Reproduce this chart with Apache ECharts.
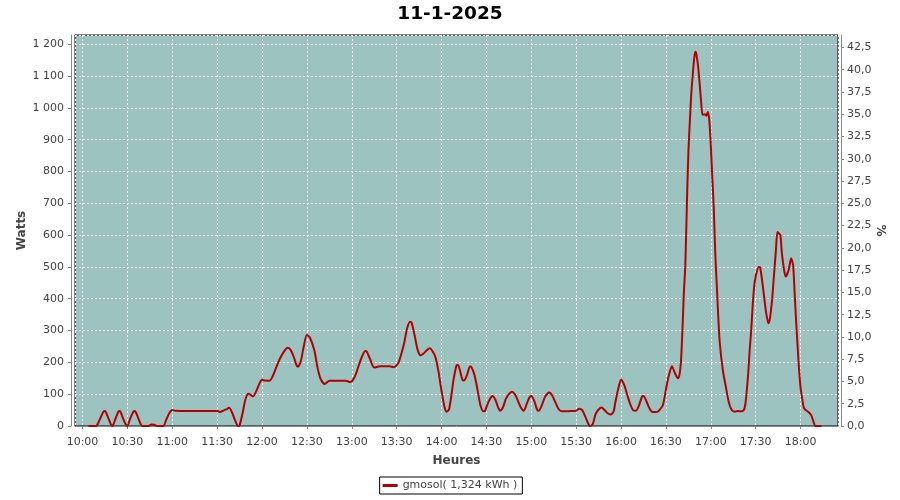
<!DOCTYPE html>
<html>
<head>
<meta charset="utf-8">
<script src="https://cdn.jsdelivr.net/npm/echarts@6/dist/echarts.min.js"></script>
<style>
html,body{margin:0;padding:0;background:#fff;}
#chart{width:900px;height:500px;}
</style>
</head>
<body>
<div id="chart"></div>
<script>
// Chart texts
var chartTitle = '11-1-2025';
var seriesName = 'gmosol( 1,324 kWh )';
var xAxisName = 'Heures';
var yLeftName = 'Watts';
var yRightName = '%';

// Minutes after 10:00 and power in watts
var minutesAfter10 = [
  4, 9, 10, 12, 14, 15, 17, 19, 20, 22, 24, 25, 27, 29, 30, 32, 34, 35, 37, 39, 40,
  44, 46, 48, 50, 54, 56, 58, 60, 62, 70, 80, 90, 92, 94, 96, 98, 100, 102, 104,
  105, 107, 109, 111, 114, 116, 118, 120, 122, 125, 127, 129, 132, 135, 137, 139,
  141, 143, 144, 146, 148, 150, 152, 155, 157, 159, 162, 165, 170, 176, 179, 182,
  185, 187, 189, 190, 192, 195, 199, 205, 208, 211, 213, 215, 217, 219, 220, 222,
  224, 226, 228, 230, 232, 234, 236, 238, 240, 242, 243.5, 245, 247, 248, 250, 251,
  252, 254, 255, 257, 259, 260, 262, 264, 266, 268, 269, 271, 273, 274, 276, 278,
  279, 281, 283, 285, 287, 289, 291, 293, 295, 297, 299, 300, 302, 304, 305, 307,
  309, 311, 312, 314, 316, 318, 320, 322, 326, 330, 332, 334, 336, 338, 339, 341,
  343, 345, 347, 349, 351, 353, 355, 356, 358, 360, 362, 364, 366, 368, 370, 372,
  374, 375, 377, 379, 381, 384, 386, 388, 390, 392, 394, 396, 398, 399, 400, 401,
  402, 403, 404, 405, 406, 407, 408, 409, 409.8, 410.5, 411.5, 412.5, 413.5, 414.5,
  416, 417, 418, 419, 420, 421, 422, 423, 424, 425, 426, 428, 430, 432, 434, 436,
  438, 440, 442, 443, 444, 445, 446, 447, 448, 449, 450, 452, 453, 455, 457, 458.5,
  459.5, 461, 462, 463.5, 464.5, 465.5, 466.5, 467.5, 469, 470, 472, 473.7, 475,
  476, 477, 478, 479, 480, 481, 482, 483, 485, 487, 488.5, 490, 494
];
var watts = [
  0, 0, 5, 25, 45, 47, 28, 5, 0, 22, 45, 47, 25, 4, 0, 25, 45, 47, 28, 5, 0,
  0, 5, 4, 0, 0, 20, 40, 50, 48, 47, 47, 47, 44, 48, 52, 57, 42, 18, 0,
  2, 40, 85, 101, 93, 108, 130, 145, 143, 142, 155, 178, 212, 236, 246, 240,
  220, 192, 186, 205, 252, 286, 278, 237, 186, 150, 132, 142, 142, 142, 138, 155,
  195, 220, 236, 234, 213, 184, 188, 188, 185, 197, 225, 260, 307, 328, 325, 285,
  240, 222, 228, 237, 244, 235, 215, 170, 110, 60, 45, 52, 110, 145, 190, 192,
  180, 145, 143, 160, 187, 185, 160, 115, 65, 46, 47, 72, 90, 94, 82, 56,
  48, 58, 85, 100, 108, 100, 80, 58, 48, 70, 92, 94, 78, 50, 48, 65,
  90, 103, 105, 96, 75, 55, 46, 46, 47, 48, 54, 50, 30, 8, 0, 5,
  38, 52, 58, 50, 40, 36, 45, 70, 115, 145, 130, 100, 70, 50, 48, 65,
  92, 94, 77, 55, 44, 44, 52, 66, 115, 160, 188, 166, 150, 160, 200, 300,
  420, 511, 700, 860, 960, 1050, 1108, 1160, 1176, 1165, 1130, 1077, 1020, 978,
  980, 975, 987, 960, 880, 780, 680, 540, 440, 340, 260, 176, 124, 75, 50, 45,
  47, 46, 50, 66, 110, 166, 240, 302, 380, 440, 470, 500, 498, 430, 355, 323,
  338, 400, 460, 553, 610, 605, 600, 543, 490, 470, 490, 527, 505,
  420, 330, 250, 176, 120, 88, 60, 52, 45, 35, 15, 0, 0
];

var FONT = 'DejaVu Sans';
var seriesData = minutesAfter10.map(function (t, i) { return [600 + t, watts[i]]; });

function fmtTime(v) {
  if (Math.abs(v % 30) > 1e-6) return '';
  var h = Math.floor(v / 60), m = Math.round(v % 60);
  return (h < 10 ? '0' : '') + h + ':' + (m < 10 ? '0' : '') + m;
}
function fmtWatts(v) {
  var s = String(Math.round(v));
  return s.replace(/\B(?=(\d{3})+(?!\d))/g, ' ');
}
function fmtPct(v) {
  return v.toFixed(1).replace('.', ',');
}

var chart = echarts.init(document.getElementById('chart'), null, { renderer: 'canvas' });
chart.setOption({
  animation: false,
  backgroundColor: '#ffffff',
  title: {
    text: chartTitle,
    left: 'center',
    top: 5,
    padding: 0,
    textStyle: { fontFamily: FONT, fontSize: 18.5, fontWeight: 'bold', color: '#000' }
  },
  legend: {
    data: [seriesName],
    left: 'center',
    top: 477,
    borderColor: '#000',
    borderWidth: 1,
    padding: [3, 5, 3, 3],
    icon: 'rect',
    itemWidth: 15,
    itemHeight: 3,
    itemGap: 0,
    itemStyle: { color: '#b00000' },
    textStyle: { fontFamily: FONT, fontSize: 11, color: '#444' }
  },
  grid: {
    left: 75, right: 62, top: 35, bottom: 74,
    show: true,
    backgroundColor: '#9dc3c1',
    borderColor: '#000',
    borderWidth: 1,
    containLabel: false
  },
  xAxis: {
    type: 'value',
    min: 595,
    max: 1105,
    splitNumber: 17,
    minInterval: 30,
    maxInterval: 30,
    offset: 4,
    name: xAxisName,
    nameLocation: 'middle',
    nameGap: 25,
    nameMoveOverlap: false,
    nameTextStyle: { fontFamily: FONT, fontSize: 12, fontWeight: 'bold', color: '#444' },
    axisLine: { show: true, lineStyle: { color: '#888', width: 1 } },
    axisTick: { show: true, length: 3, lineStyle: { color: '#888' } },
    axisLabel: { formatter: fmtTime, margin: 7, color: '#444', fontFamily: FONT, fontSize: 11, showMinLabel: false, showMaxLabel: false },
    splitLine: { show: true, lineStyle: { color: '#ffffff', width: 1, type: [2, 2] } }
  },
  yAxis: [
    {
      type: 'value',
      position: 'left',
      min: 0,
      max: 1229,
      interval: 100,
      offset: 4,
      name: yLeftName,
      nameLocation: 'middle',
      nameGap: 43,
      nameRotate: 90,
      nameMoveOverlap: false,
      nameTextStyle: { fontFamily: FONT, fontSize: 12, fontWeight: 'bold', color: '#444' },
      axisLine: { show: true, lineStyle: { color: '#888', width: 1 } },
      axisTick: { show: true, length: 3, lineStyle: { color: '#888' } },
      axisLabel: { formatter: fmtWatts, margin: 7, color: '#444', fontFamily: FONT, fontSize: 11, showMaxLabel: false },
      splitLine: { show: true, lineStyle: { color: '#ffffff', width: 1, type: [2, 2] } }
    },
    {
      type: 'value',
      position: 'right',
      min: 0,
      max: 43.9,
      interval: 2.5,
      offset: 3,
      alignTicks: false,
      name: yRightName,
      nameLocation: 'middle',
      nameGap: 33,
      nameRotate: -90,
      nameMoveOverlap: false,
      nameTextStyle: { fontFamily: FONT, fontSize: 12, fontWeight: 'bold', color: '#444' },
      axisLine: { show: true, lineStyle: { color: '#888', width: 1 } },
      axisTick: { show: true, length: 3, lineStyle: { color: '#888' } },
      axisLabel: { formatter: fmtPct, margin: 6, color: '#444', fontFamily: FONT, fontSize: 11, showMaxLabel: false },
      splitLine: { show: false }
    }
  ],
  series: [
    {
      name: seriesName,
      type: 'line',
      yAxisIndex: 0,
      data: seriesData,
      showSymbol: false,
      smooth: 0.25,
      lineStyle: { color: '#b00000', width: 2 },
      itemStyle: { color: '#b00000' }
    }
  ]
});
</script>
</body>
</html>
